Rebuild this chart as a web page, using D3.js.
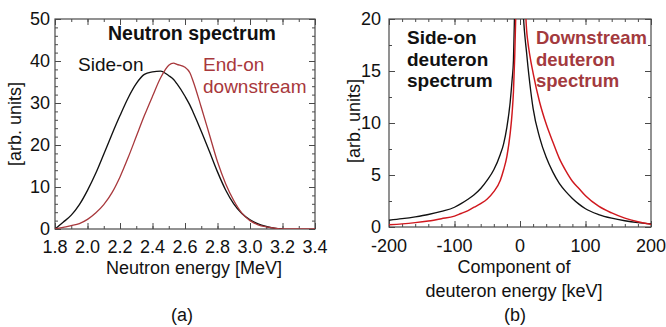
<!DOCTYPE html>
<html>
<head>
<meta charset="utf-8">
<script src="https://cdn.jsdelivr.net/npm/d3@7"></script>
<style>
  html, body { margin: 0; padding: 0; background: #fff; }
  svg { display: block; font-family: "Liberation Sans", Arial, sans-serif; }
</style>
</head>
<body>
<svg id="chart" width="666" height="327"></svg>
<script>
// ---------- Panel (a): neutron spectrum ----------
const neutronEnergy = [1.80,1.85,1.90,1.95,2.00,2.05,2.10,2.15,2.20,2.25,2.30,2.35,2.40,2.45,2.50,2.53,2.55,2.60,2.63,2.65,2.70,2.75,2.80,2.85,2.90,2.95,3.00,3.05,3.10,3.15,3.20,3.25,3.30,3.35,3.40];
const sideOnNeutron = [0,1.6,3.3,5.8,9.2,13.2,17.8,22.5,27.0,31.2,34.6,36.8,37.4,37.6,36.5,35.6,34.6,31.6,29.5,27.8,23.3,18.5,13.6,9.3,6.0,3.7,2.2,1.2,0.6,0.2,0,null,null,null,null];
const endOnNeutron  = [0,0.4,0.8,1.3,2.3,3.8,5.8,8.6,12.4,17.0,22.0,27.0,31.6,36.0,39.0,39.5,39.2,38.5,37.2,35.2,29.0,22.5,16.0,10.8,6.8,3.8,2.0,1.0,0.5,0.2,0,0,0,0,0];
const neutronTicks = [1.8,2.0,2.2,2.4,2.6,2.8,3.0,3.2,3.4];
const neutronYTicks = [0,10,20,30,40,50];

// ---------- Panel (b): deuteron spectra ----------
const deuteronKeV = [-200,-180,-160,-140,-120,-100,-90,-80,-70,-60,-50,-40,-30,-25,-20,-15,-12,-10,-8,-6,-4,-2,0,2,4,6,8,10,12,15,20,30,40,50,60,70,80,90,100,120,140,160,180,200];
const sideOnDeuteron = [0.65,0.8,0.98,1.2,1.5,1.9,2.25,2.65,3.1,3.7,4.5,5.5,7.0,8.0,9.6,12.0,14.2,16.0,21.5,27,34,40,34,28,22,19.5,18.0,16.8,15.5,13.8,11.4,8.6,6.7,5.3,4.2,3.4,2.75,2.2,1.75,1.2,0.85,0.6,0.42,0.3];
const downstreamDeuteron = [0.22,0.3,0.42,0.58,0.8,1.05,1.3,1.55,1.9,2.25,2.7,3.4,4.5,5.5,6.8,9.0,11.0,13.0,16.5,21.5,28,34,40,36,30,25,21.5,19.0,17.8,16.5,14.8,12.0,9.9,8.2,6.6,5.4,4.4,3.7,3.0,2.0,1.35,0.85,0.5,0.25];
const keVTicks = [-200,-100,0,100,200];
const deuteronYTicks = [0,5,10,15,20];

const svg = d3.select("#chart");
const FONT = 18;
const frameColor = "#4a4a4a";

function panel(opts) {
  const g = svg.append("g");
  const {x0, x1, y0, y1} = opts.box;
  const x = d3.scaleLinear().domain(opts.xDomain).range([x0, x1]);
  const y = d3.scaleLinear().domain(opts.yDomain).range([y1, y0]);

  const cid = "clip" + opts.id;
  svg.append("defs").append("clipPath").attr("id", cid)
    .append("rect").attr("x", x0).attr("y", y0).attr("width", x1 - x0).attr("height", y1 - y0);

  const mk = (axisFn, scale, vals, size, transform) => {
    g.append("g").attr("transform", transform)
      .call(axisFn(scale).tickValues(vals).tickSize(-size).tickFormat(""))
      .call(s => s.select(".domain").remove())
      .call(s => s.selectAll("line").attr("stroke", frameColor).attr("stroke-width", 1));
  };
  mk(d3.axisBottom, x, opts.xMinor, 3, `translate(0,${y1})`);
  mk(d3.axisBottom, x, opts.xTicks, 6, `translate(0,${y1})`);
  mk(d3.axisTop, x, opts.xMinor, 3, `translate(0,${y0})`);
  mk(d3.axisTop, x, opts.xTicks, 6, `translate(0,${y0})`);
  mk(d3.axisLeft, y, opts.yMinor, 3, `translate(${x0},0)`);
  mk(d3.axisLeft, y, opts.yTicks, 6, `translate(${x0},0)`);
  mk(d3.axisRight, y, opts.yMinor, 3, `translate(${x1},0)`);
  mk(d3.axisRight, y, opts.yTicks, 6, `translate(${x1},0)`);

  g.append("rect").attr("x", x0).attr("y", y0).attr("width", x1 - x0).attr("height", y1 - y0)
    .attr("fill", "none").attr("stroke", frameColor).attr("stroke-width", 1.2);

  g.selectAll(".xl").data(opts.xTicks).enter().append("text")
    .attr("x", d => x(d)).attr("y", y1 + opts.xLabelDy).attr("text-anchor", "middle")
    .attr("font-size", FONT).attr("fill", "#111").text(opts.xFmt);
  g.selectAll(".yl").data(opts.yTicks).enter().append("text")
    .attr("x", x0 - opts.yLabelGap).attr("y", d => y(d)).attr("dy", "0.34em").attr("text-anchor", "end")
    .attr("font-size", FONT).attr("fill", "#111").text(d => String(d));

  const plot = g.append("g").attr("clip-path", `url(#${cid})`);
  opts.series.forEach(s => {
    const pts = opts.xs.map((v, i) => [v, s.values[i]]).filter(p => p[1] !== null);
    const line = d3.line().x(p => x(p[0])).y(p => y(p[1])).curve(d3.curveMonotoneX);
    plot.append("path").attr("d", line(pts)).attr("fill", "none")
      .attr("stroke", s.color).attr("stroke-width", s.width).attr("stroke-linejoin", "round");
  });
  return {g, x, y};
}

panel({
  id: "a",
  box: {x0: 55, x1: 315, y0: 19, y1: 229},
  xDomain: [1.8, 3.4], yDomain: [0, 50],
  xTicks: neutronTicks, xMinor: d3.range(0, 17).map(i => 1.8 + i * 0.1),
  yTicks: neutronYTicks, yMinor: d3.range(0, 26).map(i => i * 2),
  xFmt: d3.format(".1f"), yLabelGap: 5, xLabelDy: 24,
  xs: neutronEnergy,
  series: [
    {values: sideOnNeutron, color: "#111111", width: 1.35},
    {values: endOnNeutron, color: "#a8383c", width: 1.3}
  ]
});

panel({
  id: "b",
  box: {x0: 389, x1: 651, y0: 19, y1: 227},
  xDomain: [-200, 200], yDomain: [0, 20],
  xTicks: keVTicks, xMinor: d3.range(0, 21).map(i => -200 + i * 20),
  yTicks: deuteronYTicks, yMinor: d3.range(0, 9).map(i => i * 2.5),
  xFmt: d => String(d), yLabelGap: 8, xLabelDy: 25,
  xs: deuteronKeV,
  series: [
    {values: sideOnDeuteron, color: "#111111", width: 1.35},
    {values: downstreamDeuteron, color: "#d0181e", width: 1.45}
  ]
});

function txt(x, y, s, o = {}) {
  return svg.append("text").attr("x", x).attr("y", y)
    .attr("font-size", o.size || FONT)
    .attr("font-weight", o.bold ? "bold" : "normal")
    .attr("text-anchor", o.anchor || "start")
    .attr("fill", o.color || "#111")
    .text(s);
}
txt(192, 40, "Neutron spectrum", {bold: true, size: 19.5, anchor: "middle"});
txt(78, 71, "Side-on", {size: 19});
txt(203, 71, "End-on", {size: 19, color: "#a8383c"});
txt(203, 93, "downstream", {size: 19, color: "#a8383c"});
txt(194, 274, "Neutron energy [MeV]", {anchor: "middle"});
txt(182, 321, "(a)", {anchor: "middle"});
svg.append("text").attr("transform", "translate(21,124) rotate(-90)")
  .attr("text-anchor", "middle").attr("font-size", FONT).attr("fill", "#111").text("[arb. units]");

txt(407, 44, "Side-on", {bold: true, size: 19});
txt(407, 66, "deuteron", {bold: true, size: 19});
txt(407, 87, "spectrum", {bold: true, size: 19});
txt(536, 44, "Downstream", {bold: true, size: 18.5, color: "#a33a3e"});
txt(536, 66, "deuteron", {bold: true, size: 18.5, color: "#a33a3e"});
txt(536, 87, "spectrum", {bold: true, size: 18.5, color: "#a33a3e"});
txt(514, 273, "Component of", {anchor: "middle"});
txt(514, 297, "deuteron energy [keV]", {anchor: "middle"});
txt(515, 321, "(b)", {anchor: "middle"});
svg.append("text").attr("transform", "translate(360,121) rotate(-90)")
  .attr("text-anchor", "middle").attr("font-size", FONT).attr("fill", "#111").text("[arb. units]");
</script>
</body>
</html>
